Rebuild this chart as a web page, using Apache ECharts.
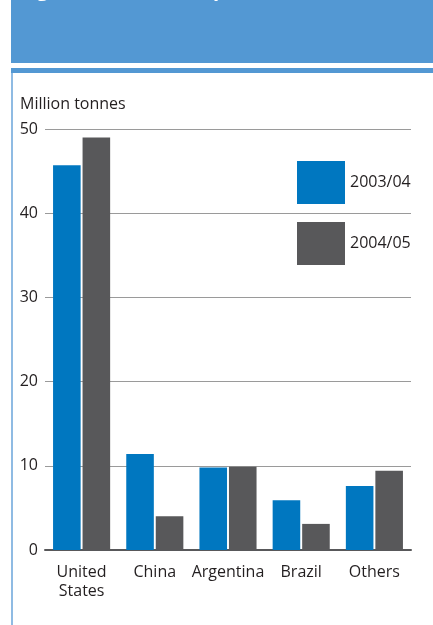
<!DOCTYPE html>
<html>
<head>
<meta charset="utf-8">
<script src="https://cdn.jsdelivr.net/npm/echarts@6/dist/echarts.min.js"></script>
<style>
html, body { margin: 0; padding: 0; background: #fff; }
#chart { width: 433px; height: 625px; }
</style>
</head>
<body>
<div id="chart"></div>
<script>
var categories = ['United\nStates', 'China', 'Argentina', 'Brazil', 'Others'];
var seriesNames = ['2003/04', '2004/05'];
var values0304 = [45.7, 11.4, 9.8, 5.9, 7.6];
var values0405 = [49.0, 4.0, 9.9, 3.1, 9.4];

var myChart = echarts.init(document.getElementById('chart'));
var option = {
	animation: false,
	textStyle: { fontFamily: 'Open Sans, Noto Sans, sans-serif' },
	title: {
		text: 'Million tonnes',
		left: 15,
		top: 91,
		textStyle: { fontSize: 16, fontWeight: 'normal', color: '#231f20' }
	},
	graphic: [
		{ type: 'rect', shape: { x: 11, y: 0, width: 422, height: 63 }, style: { fill: '#5398d3' } },
		{ type: 'rect', shape: { x: 11, y: 68, width: 422, height: 5 }, style: { fill: '#5398d3' } },
		{ type: 'rect', shape: { x: 11, y: 73, width: 2, height: 552 }, style: { fill: '#8fbbe3' } },
		{
			// title text mostly above the top edge; only descenders show
			type: 'text', x: 20, y: 0.5,
			style: { text: 'Figure 3: Oilseed exports', fill: '#fff', font: 'bold 20px Open Sans', verticalAlign: 'bottom' }
		}
	],
	legend: {
		orient: 'vertical',
		left: 297,
		top: 161,
		padding: 0,
		itemWidth: 48,
		itemHeight: 43,
		itemGap: 18,
		icon: 'rect',
		textStyle: { fontSize: 16, color: '#231f20', padding: [6, 0, 0, 0] },
		data: seriesNames
	},
	grid: { left: 45, right: 22, top: 129, bottom: 75 },
	xAxis: {
		type: 'category',
		data: categories,
		axisLine: { lineStyle: { color: '#58585a', width: 2 } },
		axisTick: { show: false },
		axisLabel: { fontSize: 16, color: '#231f20', margin: 13, lineHeight: 19, interval: 0 }
	},
	yAxis: {
		type: 'value',
		min: 0,
		max: 50,
		interval: 10,
		axisLine: { show: false },
		axisTick: { show: false },
		axisLabel: { fontSize: 16, color: '#231f20', margin: 7 },
		splitLine: { lineStyle: { color: '#9a9a9a', width: 1 } }
	},
	series: [
		{
			name: seriesNames[0],
			type: 'bar',
			data: values0304,
			barGap: '7%',
			barCategoryGap: '22%',
			itemStyle: { color: '#0077c0' }
		},
		{
			name: seriesNames[1],
			type: 'bar',
			data: values0405,
			itemStyle: { color: '#58585a' }
		}
	]
};
myChart.setOption(option);
</script>
</body>
</html>
